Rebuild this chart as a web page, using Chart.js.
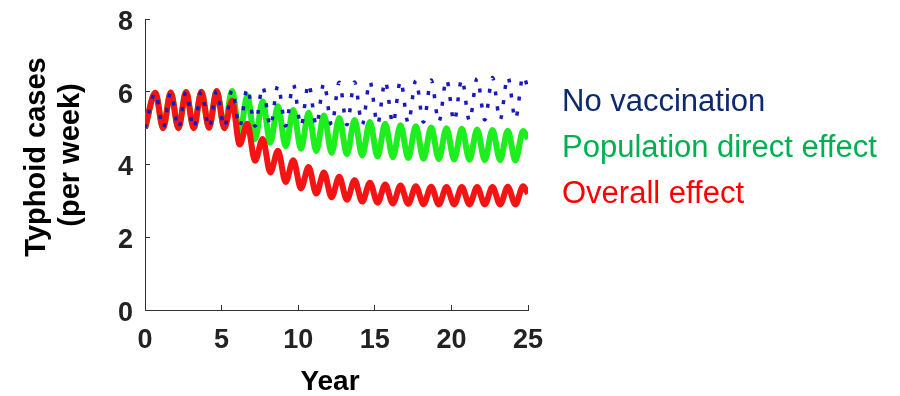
<!DOCTYPE html>
<html lang="en">
<head>
    <meta charset="UTF-8">
    <title>Typhoid cases per week</title>
    <script src="https://cdnjs.cloudflare.com/ajax/libs/Chart.js/4.4.1/chart.umd.min.js"></script>
    <style>
        html, body { margin: 0; padding: 0; background: #fff; }
        #wrap { width: 900px; height: 396px; position: relative; }
    </style>
</head>
<body>
<div id="wrap"><canvas id="chart" width="900" height="396"></canvas></div>

<script>
    // Time of each peak / trough (years)
    const years = [0, 0.68, 1.18, 1.68, 2.18, 2.68, 3.18, 3.68, 4.18, 4.68,
        5.18, 5.68, 6.18, 6.68, 7.18, 7.68, 8.18, 8.68, 9.18, 9.68,
        10.18, 10.68, 11.18, 11.68, 12.18, 12.68, 13.18, 13.68, 14.18, 14.68,
        15.18, 15.68, 16.18, 16.68, 17.18, 17.68, 18.18, 18.68, 19.18, 19.68,
        20.18, 20.68, 21.18, 21.68, 22.18, 22.68, 23.18, 23.68, 24.18, 24.68, 25];

    const noVaccination = [5.0, 5.97, 5.0, 5.98, 5.0, 5.99, 5.0, 6.0, 5.01, 6.02,
        5.02, 6.05, 5.04, 6.1, 5.05, 6.14, 5.05, 6.17, 5.06, 6.2,
        5.06, 6.22, 5.07, 6.24, 5.08, 6.26, 5.09, 6.27, 5.1, 6.28,
        5.11, 6.29, 5.13, 6.3, 5.14, 6.31, 5.16, 6.32, 5.17, 6.34,
        5.19, 6.35, 5.2, 6.37, 5.22, 6.39, 5.23, 6.41, 5.25, 6.43, 6.1];

    const populationDirect = [5.0, 5.97, 5.0, 5.98, 5.0, 5.99, 5.0, 6.0, 5.01, 6.02,
        5.0, 6.02, 4.85, 5.88, 4.7, 5.73, 4.6, 5.6, 4.5, 5.5,
        4.43, 5.42, 4.37, 5.35, 4.32, 5.28, 4.28, 5.22, 4.25, 5.17,
        4.22, 5.12, 4.2, 5.08, 4.18, 5.05, 4.16, 5.02, 4.15, 5.0,
        4.14, 4.98, 4.13, 4.96, 4.12, 4.95, 4.12, 4.93, 4.11, 4.92, 4.7];

    const overallEffect = [5.0, 5.97, 5.0, 5.98, 5.0, 5.99, 5.0, 6.0, 5.01, 6.02,
        5.0, 5.75, 4.55, 5.12, 4.1, 4.7, 3.78, 4.38, 3.52, 4.12,
        3.34, 3.93, 3.2, 3.78, 3.1, 3.66, 3.03, 3.57, 2.98, 3.5,
        2.95, 3.45, 2.93, 3.42, 2.92, 3.4, 2.91, 3.39, 2.9, 3.38,
        2.9, 3.38, 2.9, 3.38, 2.9, 3.38, 2.9, 3.39, 2.9, 3.4, 3.2];

    const seriesNames = ['No vaccination', 'Population direct effect', 'Overall effect'];
    const xTicks = [0, 5, 10, 15, 20, 25];
    const yTicks = [0, 2, 4, 6, 8];

    const FONT = '"Liberation Sans", Arial, Helvetica, sans-serif';

    function points(values) {
        return years.map((x, i) => ({ x: x, y: values[i] }));
    }

    // axis titles and the coloured labels on the right
    const textPlugin = {
        id: 'texts',
        afterDraw(chart) {
            const ctx = chart.ctx;
            ctx.save();
            ctx.fillStyle = '#000';
            ctx.textAlign = 'center';
            ctx.textBaseline = 'alphabetic';
            ctx.font = 'bold 29px ' + FONT;
            ctx.save();
            ctx.translate(45, 157);
            ctx.rotate(-Math.PI / 2);
            ctx.fillText('Typhoid cases', 0, 0);
            ctx.restore();
            ctx.save();
            ctx.translate(79, 155);
            ctx.rotate(-Math.PI / 2);
            ctx.fillText('(per week)', 0, 0);
            ctx.restore();

            ctx.font = 'bold 28px ' + FONT;
            ctx.fillText('Year', 330, 390);

            ctx.textAlign = 'left';
            ctx.font = '31px ' + FONT;
            const colors = ['#0c2a6e', '#00b050', '#ff0000'];
            const baselines = [111, 157, 203];
            seriesNames.forEach((name, i) => {
                ctx.fillStyle = colors[i];
                ctx.fillText(name, 562, baselines[i]);
            });
            ctx.restore();
        }
    };

    new Chart(document.getElementById('chart'), {
        type: 'line',
        data: {
            datasets: [
                {
                    label: seriesNames[0],
                    data: points(noVaccination),
                    borderColor: '#1a1ab8',
                    borderWidth: 3.5,
                    borderDash: [4, 11],
                    pointRadius: 0,
                    cubicInterpolationMode: 'monotone'
                },
                {
                    label: seriesNames[2],
                    data: points(overallEffect),
                    borderColor: '#f41414',
                    borderWidth: 6,
                    pointRadius: 0,
                    cubicInterpolationMode: 'monotone'
                },
                {
                    label: seriesNames[1],
                    data: points(populationDirect),
                    borderColor: '#1eee1e',
                    borderWidth: 6,
                    pointRadius: 0,
                    cubicInterpolationMode: 'monotone'
                }
            ]
        },
        options: {
            responsive: false,
            animation: false,
            layout: { padding: { left: 0, top: 19, right: 372, bottom: 0 } },
            plugins: {
                legend: { display: false },
                tooltip: { enabled: false }
            },
            scales: {
                x: {
                    type: 'linear',
                    min: 0,
                    max: 25,
                    afterBuildTicks: s => { s.ticks = xTicks.map(v => ({ value: v })); },
                    afterFit: s => { s.height = 86; s.paddingLeft = 0; s.paddingRight = 0; },
                    border: { display: true, color: '#333', width: 1 },
                    grid: { drawOnChartArea: false, drawTicks: true, tickLength: -5, color: '#333' },
                    ticks: {
                        color: '#222',
                        padding: 19,
                        maxRotation: 0,
                        font: { family: FONT, size: 27, weight: 'bold' }
                    }
                },
                y: {
                    min: 0,
                    max: 8,
                    afterBuildTicks: s => { s.ticks = yTicks.map(v => ({ value: v })); },
                    afterFit: s => { s.width = 145; s.paddingTop = 0; s.paddingBottom = 0; },
                    border: { display: true, color: '#333', width: 1 },
                    grid: { drawOnChartArea: false, drawTicks: true, tickLength: -5, color: '#333' },
                    ticks: {
                        color: '#222',
                        padding: 17,
                        labelOffset: 3.5,
                        font: { family: FONT, size: 27, weight: 'bold' }
                    }
                }
            }
        },
        plugins: [textPlugin]
    });
</script>
</body>
</html>
